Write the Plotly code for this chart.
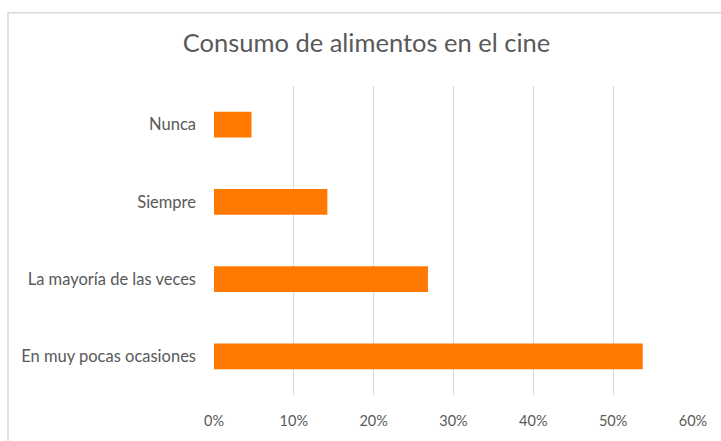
import plotly.graph_objects as go

# Survey answers, listed bottom to top as they appear on the chart
categories = ["En muy pocas ocasiones", "La mayoría de las veces", "Siempre", "Nunca"]
shares = [0.537, 0.268, 0.142, 0.047]
tick_values = [0, 0.1, 0.2, 0.3, 0.4, 0.5, 0.6]
tick_labels = ["0%", "10%", "20%", "30%", "40%", "50%", "60%"]
title_text = "Consumo de alimentos en el cine"

W, H = 721, 441
ML, MR, MT, MB = 214, 28, 86, 43
pw = W - ML - MR
ph = H - MT - MB

fig = go.Figure(
    go.Bar(
        x=shares,
        y=categories,
        orientation="h",
        marker=dict(color="#FF7800", line=dict(width=0)),
        hoverinfo="x+y",
    )
)

# light frame around the chart area
fig.add_shape(
    type="rect",
    xref="paper", yref="paper",
    x0=(8 - ML) / pw, x1=(W + 5 - ML) / pw,
    y0=(H - MB - (H + 5)) / ph, y1=(H - MB - 12) / ph,
    line=dict(color="#D9D9D9", width=1.5),
    fillcolor="rgba(0,0,0,0)",
    layer="below",
)

fig.update_layout(
    width=W,
    height=H,
    margin=dict(l=ML, r=MR, t=MT, b=MB, pad=0),
    paper_bgcolor="white",
    plot_bgcolor="white",
    bargap=0.667,
    showlegend=False,
    font=dict(family="Lato, 'Open Sans', sans-serif", color="#595959", size=14),
    title=dict(
        text=title_text,
        x=366.5 / W,
        xanchor="center",
        y=1 - 43 / H,
        yanchor="middle",
        xref="container",
        yref="container",
        font=dict(family="Lato, 'Open Sans', sans-serif", size=25.5, color="#595959"),
    ),
    xaxis=dict(
        range=[0, 0.6],
        tickvals=tick_values,
        ticktext=tick_labels,
        showgrid=True,
        gridcolor="#D9D9D9",
        gridwidth=1,
        zeroline=False,
        showline=False,
        ticks="",
        ticklabelstandoff=15,
        tickfont=dict(size=14.5, color="#595959"),
        fixedrange=True,
    ),
    yaxis=dict(
        categoryorder="array",
        categoryarray=categories,
        showgrid=False,
        zeroline=False,
        showline=False,
        ticks="",
        ticklabelstandoff=17,
        tickfont=dict(size=16.5, color="#595959"),
        fixedrange=True,
    ),
)

fig.write_html("out.html")
